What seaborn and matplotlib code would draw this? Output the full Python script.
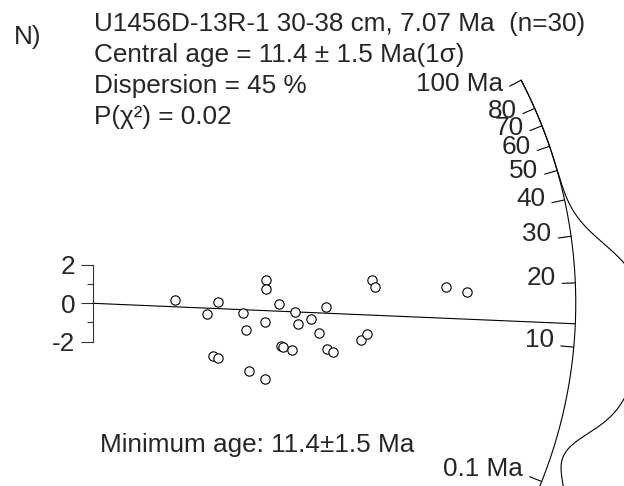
import numpy as np
import pandas as pd
import matplotlib.pyplot as plt
import seaborn as sns

# single grain points: precision (x) and standardised estimate (y)
precision = [4.30, 5.97, 6.51, 6.25, 6.51, 7.84, 7.97, 8.16, 9.03, 9.03,
             8.97, 8.97, 9.69, 9.79, 9.91, 10.38, 10.55, 10.71, 11.39, 11.79,
             12.14, 12.22, 12.53, 13.99, 14.27, 14.55, 14.69, 18.40, 19.48]
std_est = [0.19, -0.54, 0.07, -2.74, -2.85, -0.51, -1.41, -3.53, 1.21, 0.73,
           -0.96, -3.92, -0.05, -2.21, -2.28, -2.45, -0.44, -1.08, -0.83, -1.55,
           -0.21, -2.38, -2.52, -1.93, -1.58, 1.21, 0.83, 0.83, 0.59]

arc_ages = [100, 80, 70, 60, 50, 40, 30, 20, 10, 0.1]
arc_labels = ["100 Ma", "80", "70", "60", "50", "40", "30", "20", "10", "0.1 Ma"]
central_line_age = 13.2

title_lines = ["U1456D-13R-1 30-38 cm, 7.07 Ma  (n=30)",
               "Central age = 11.4 ± 1.5 Ma(1σ)",
               "Dispersion = 45 %",
               "P(χ²) = 0.02"]
panel_label = "N)"
min_age_text = "Minimum age: 11.4±1.5 Ma"

# arcsine-type transform of the age axis
zeta = 200.0
ref_age = 16.4
kscale = 1.547
R = 25.16

def age_to_slope(t):
    t = np.asarray(t, dtype=float)
    z = np.arctan(np.sqrt(t / zeta))
    z0 = np.arctan(np.sqrt(ref_age / zeta))
    return kscale * (z - z0)

df = pd.DataFrame({"x": precision, "y": std_est})

sns.set_theme(style="white")
plt.rcParams["font.family"] = ["Liberation Sans", "DejaVu Sans"]
plt.rcParams["axes.unicode_minus"] = False
fs = 18.8

W, H = 624, 486
px = 19.2  # pixels per unit
ox, oy = 92.7, 303.3

fig = plt.figure(figsize=(W / 100, H / 100), dpi=100)
ax = fig.add_axes([0, 0, 1, 1])
ax.set_xlim(-ox / px, (W - ox) / px)
ax.set_ylim(-(H - oy) / px, oy / px)

# arc
th_top = np.arctan(age_to_slope(100))
th_bot = np.arctan(age_to_slope(0))
th = np.linspace(th_bot, th_top, 400)
ax.plot(R * np.cos(th), R * np.sin(th), color="black", lw=0.8)

# density curve outside the arc
th_pts = np.arctan(df["y"] / df["x"]).to_numpy()
h = np.deg2rad(3.0)
dens = np.exp(-0.5 * ((th[:, None] - th_pts[None, :]) / h) ** 2).sum(axis=1)
dens = dens / dens.max() * 3.5
ax.plot((R + dens) * np.cos(th), (R + dens) * np.sin(th), color="black", lw=0.8)

# arc ticks and labels
tick_len = 13 / px
gap = 7 / px
for age, lab in zip(arc_ages, arc_labels):
    a = np.arctan(age_to_slope(age))
    c, s = np.cos(a), np.sin(a)
    ax.plot([R * c, (R - tick_len) * c], [R * s, (R - tick_len) * s],
            color="black", lw=0.8)
    r_lab = R - tick_len - gap
    ax.text(r_lab * c, r_lab * s - 1.5 / px, lab,
            ha="right", va="baseline", fontsize=fs)

# central age line
a = np.arctan(age_to_slope(central_line_age))
ax.plot([0, R * np.cos(a)], [0, R * np.sin(a)], color="black", lw=0.8)

# grains
sns.scatterplot(data=df, x="x", y="y", ax=ax, marker="o", s=45,
                facecolor="white", edgecolor="black", linewidth=0.8, zorder=3)

# y axis bracket
for sp in ["top", "right", "bottom"]:
    ax.spines[sp].set_visible(False)
ax.spines["left"].set_position(("data", 0))
ax.spines["left"].set_bounds(-2, 2)
ax.spines["left"].set_linewidth(0.8)
ax.spines["left"].set_color("#333333")
ax.set_xticks([])
ax.set_yticks([-2, 0, 2])
ax.set_yticks([-1, 1], minor=True)
ax.tick_params(axis="y", which="major", length=8.6, width=0.8, color="#333333",
               labelsize=fs, pad=4, left=True)
ax.tick_params(axis="y", which="minor", length=4.3, width=0.8, color="#333333", left=True)
ax.set_xlabel("")
ax.set_ylabel("")
ax.set_facecolor("white")

# texts
for i, line in enumerate(title_lines):
    fig.text(94 / W, 1 - (31 + 31 * i) / H, line, fontsize=fs, ha="left", va="baseline")
fig.text(14 / W, 1 - 44 / H, panel_label, fontsize=fs, ha="left", va="baseline")
fig.text(100 / W, 1 - 452 / H, min_age_text, fontsize=fs, ha="left", va="baseline")

fig.savefig("out.png", dpi=100)
